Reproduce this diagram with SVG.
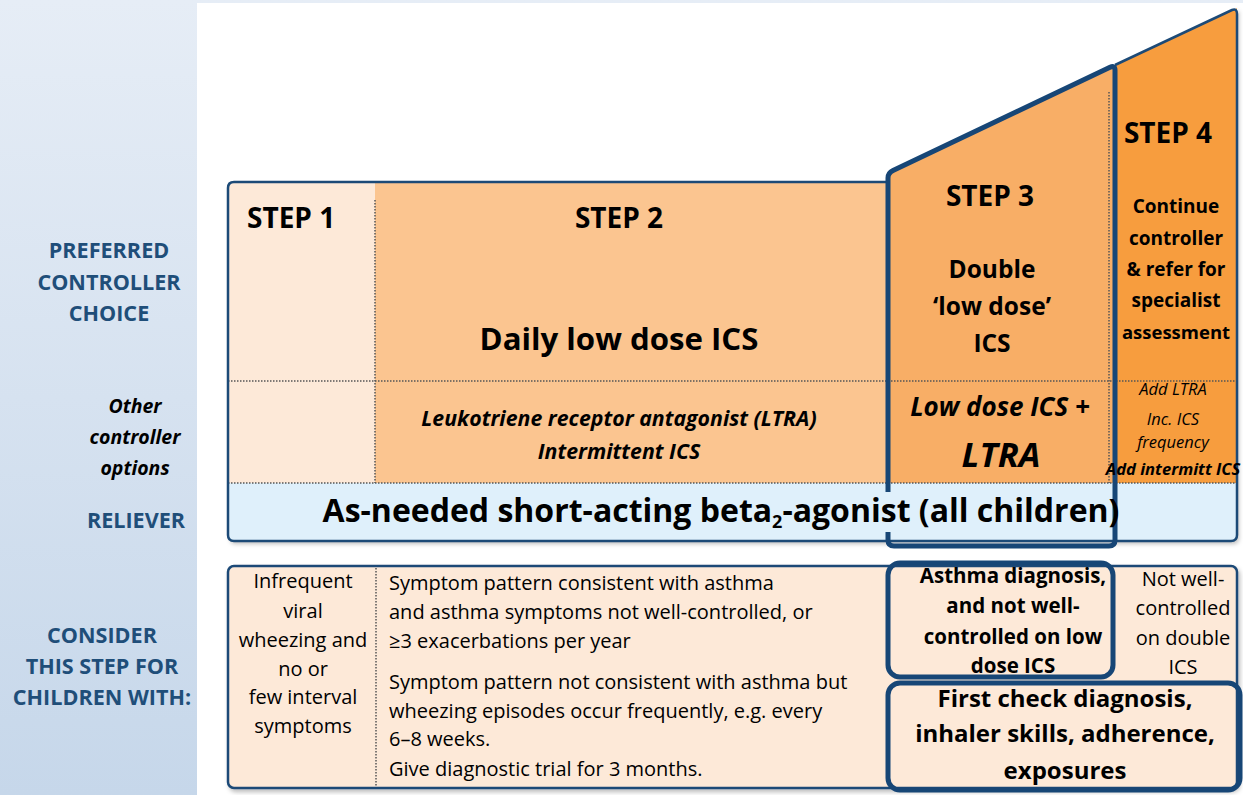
<svg xmlns="http://www.w3.org/2000/svg" width="1243" height="795" viewBox="0 0 1243 795">
<defs>
<linearGradient id="side" x1="0" y1="0" x2="0" y2="1">
<stop offset="0" stop-color="#e6edf6"/>
<stop offset="1" stop-color="#c6d7ea"/>
</linearGradient>
<clipPath id="mainclip">
<path d="M234,182 L888,182 L888,173 L1115,65 L1237,8 L1237,535 Q1237,541 1231,541 L234,541 Q228,541 228,535 L228,188 Q228,182 234,182 Z"/>
</clipPath>
<filter id="shadow" x="-5%" y="-5%" width="110%" height="115%">
<feDropShadow dx="2" dy="3" stdDeviation="2" flood-color="#000" flood-opacity="0.25"/>
</filter>
</defs>
<style>
text{font-family:"Open Sans",Lato,"Liberation Sans",sans-serif;fill:#000}
.side{font-weight:bold;font-size:21.6px;fill:#1f4e79;text-anchor:middle}
.sidei{font-weight:bold;font-style:italic;font-size:19.5px;text-anchor:middle}
.step{font-weight:bold;font-size:28px}
.c{text-anchor:middle}
.b{font-weight:bold}
.i{font-style:italic}
.dot{stroke:#555;stroke-width:1.5;stroke-dasharray:1.5 1.5;fill:none}
.thin{stroke:#1c4a77;stroke-width:2.5;fill:none}
.thick{stroke:#174676;stroke-width:5;fill:none;stroke-linejoin:round}
.reg{font-size:20px}
</style>
<rect x="0" y="0" width="1243" height="795" fill="url(#side)"/>
<rect x="197" y="3" width="1046" height="792" fill="#fff"/>

<g id="labels">
<text class="side" x="109" y="258">PREFERRED</text>
<text class="side" x="109" y="290">CONTROLLER</text>
<text class="side" x="109" y="321">CHOICE</text>
<text class="sidei" x="135" y="413">Other</text>
<text class="sidei" x="135" y="444">controller</text>
<text class="sidei" x="135" y="475">options</text>
<text class="side" x="136" y="528">RELIEVER</text>
<text class="side" x="102" y="643">CONSIDER</text>
<text class="side" x="102" y="674">THIS STEP FOR</text>
<text class="side" x="102" y="705">CHILDREN WITH:</text>
</g>

<g id="main-box">
<path filter="url(#shadow)" fill="#fff" d="M234,182 L888,182 L888,173 L1115,65 L1237,8 L1237,535 Q1237,541 1231,541 L234,541 Q228,541 228,535 L228,188 Q228,182 234,182 Z"/>
<g clip-path="url(#mainclip)">
<rect x="228" y="182" width="147" height="301" fill="#fde9d8"/>
<rect x="375" y="182" width="513" height="301" fill="#fbc590"/>
<polygon points="888,173 1115,65 1115,483 888,483" fill="#f8ae66"/>
<polygon points="1115,65 1237,8 1237,483 1115,483" fill="#f79d3e"/>
<rect x="228" y="483" width="1009" height="58" fill="#dff0fb"/>
</g>
<line class="dot" x1="228" y1="381" x2="1237" y2="381"/>
<line class="dot" x1="228" y1="483" x2="1237" y2="483"/>
<line class="dot" x1="375" y1="200" x2="375" y2="483"/>
<line class="dot" x1="1109" y1="92" x2="1109" y2="483"/>
<path class="thin" d="M888,182 L234,182 Q228,182 228,188 L228,535 Q228,541 234,541 L1231,541 Q1237,541 1237,535 L1237,14 Q1237,8 1232,10 L1115,65"/>
</g>

<g id="step1">
<text class="step" x="247" y="228">STEP 1</text>
</g>
<g id="step2">
<text class="step c" x="619" y="228">STEP 2</text>
<text class="b c" x="619" y="350" font-size="31.2">Daily low dose ICS</text>
<text class="b i c" x="619" y="426" font-size="21.3">Leukotriene receptor antagonist (LTRA)</text>
<text class="b i c" x="619" y="459" font-size="21.3">Intermittent ICS</text>
</g>
<g id="step3">
<path class="thick" d="M888,492 L888,178 Q888,173 893,170.6 L1110,67.3 Q1115,65 1115,70 L1115,540 Q1115,546 1109,546 L894,546 Q888,546 888,540 L888,532"/>
<text class="step c" x="990" y="206">STEP 3</text>
<text class="b c" x="992" y="278" font-size="24.5">Double</text>
<text class="b c" x="992" y="315" font-size="24.5">‘low dose’</text>
<text class="b c" x="992" y="352" font-size="24.5">ICS</text>
<text class="b i c" x="1000" y="416" font-size="26">Low dose ICS +</text>
<text class="b i c" x="1001" y="467" font-size="34.5">LTRA</text>
</g>
<g id="step4">
<text class="step c" x="1168" y="143">STEP 4</text>
<text class="b c" x="1176" y="213" font-size="19">Continue</text>
<text class="b c" x="1176" y="245" font-size="19">controller</text>
<text class="b c" x="1176" y="276" font-size="19">&amp; refer for</text>
<text class="b c" x="1176" y="307" font-size="19">specialist</text>
<text class="b c" x="1176" y="339" font-size="18.5">assessment</text>
<text class="i c" x="1173" y="395" font-size="16.5">Add LTRA</text>
<text class="i c" x="1173" y="425" font-size="16.5">Inc. ICS</text>
<text class="i c" x="1173" y="448" font-size="16.5">frequency</text>
<text class="b i c" x="1173" y="475" font-size="16.6">Add intermitt ICS</text>
</g>
<g id="reliever">
<text class="b c" x="721" y="522" font-size="32">As-needed short-acting beta<tspan font-size="18" dy="6">2</tspan><tspan dy="-6">-agonist (all children)</tspan></text>
</g>

<g id="consider-box">
<rect x="228" y="566" width="1009" height="222" rx="6" fill="#fde9d8" stroke="#1c4a77" stroke-width="2.5" filter="url(#shadow)"/>
<line class="dot" x1="376" y1="568" x2="376" y2="786"/>
<text class="reg c" x="303" y="588">Infrequent</text>
<text class="reg c" x="303" y="618">viral</text>
<text class="reg c" x="303" y="647">wheezing and</text>
<text class="reg c" x="303" y="676">no or</text>
<text class="reg c" x="303" y="704">few interval</text>
<text class="reg c" x="303" y="733">symptoms</text>
<text class="reg" x="389" y="590">Symptom pattern consistent with asthma</text>
<text class="reg" x="389" y="619">and asthma symptoms not well-controlled, or</text>
<text class="reg" x="389" y="648">≥3 exacerbations per year</text>
<text class="reg" x="389" y="689">Symptom pattern not consistent with asthma but</text>
<text class="reg" x="389" y="718">wheezing episodes occur frequently, e.g. every</text>
<text class="reg" x="389" y="746">6–8 weeks.</text>
<text class="reg" x="389" y="776">Give diagnostic trial for 3 months.</text>
<text class="reg c" x="1183" y="586">Not well-</text>
<text class="reg c" x="1183" y="615">controlled</text>
<text class="reg c" x="1183" y="645">on double</text>
<text class="reg c" x="1183" y="674">ICS</text>
</g>
<g id="asthma-diagnosis">
<rect class="thick" x="888" y="563" width="225" height="114" rx="12"/>
<text class="b c" x="1013" y="583" font-size="20.5">Asthma diagnosis,</text>
<text class="b c" x="1013" y="613" font-size="20.5">and not well-</text>
<text class="b c" x="1013" y="644" font-size="20.5">controlled on low</text>
<text class="b c" x="1013" y="673" font-size="20.5">dose ICS</text>
</g>
<g id="first-check">
<rect class="thick" x="888" y="683" width="352" height="107" rx="12" fill="#fde9d8"/>
<text class="b c" x="1065" y="707" font-size="24">First check diagnosis,</text>
<text class="b c" x="1065" y="742" font-size="24">inhaler skills, adherence,</text>
<text class="b c" x="1065" y="779" font-size="24">exposures</text>
</g>
</svg>
